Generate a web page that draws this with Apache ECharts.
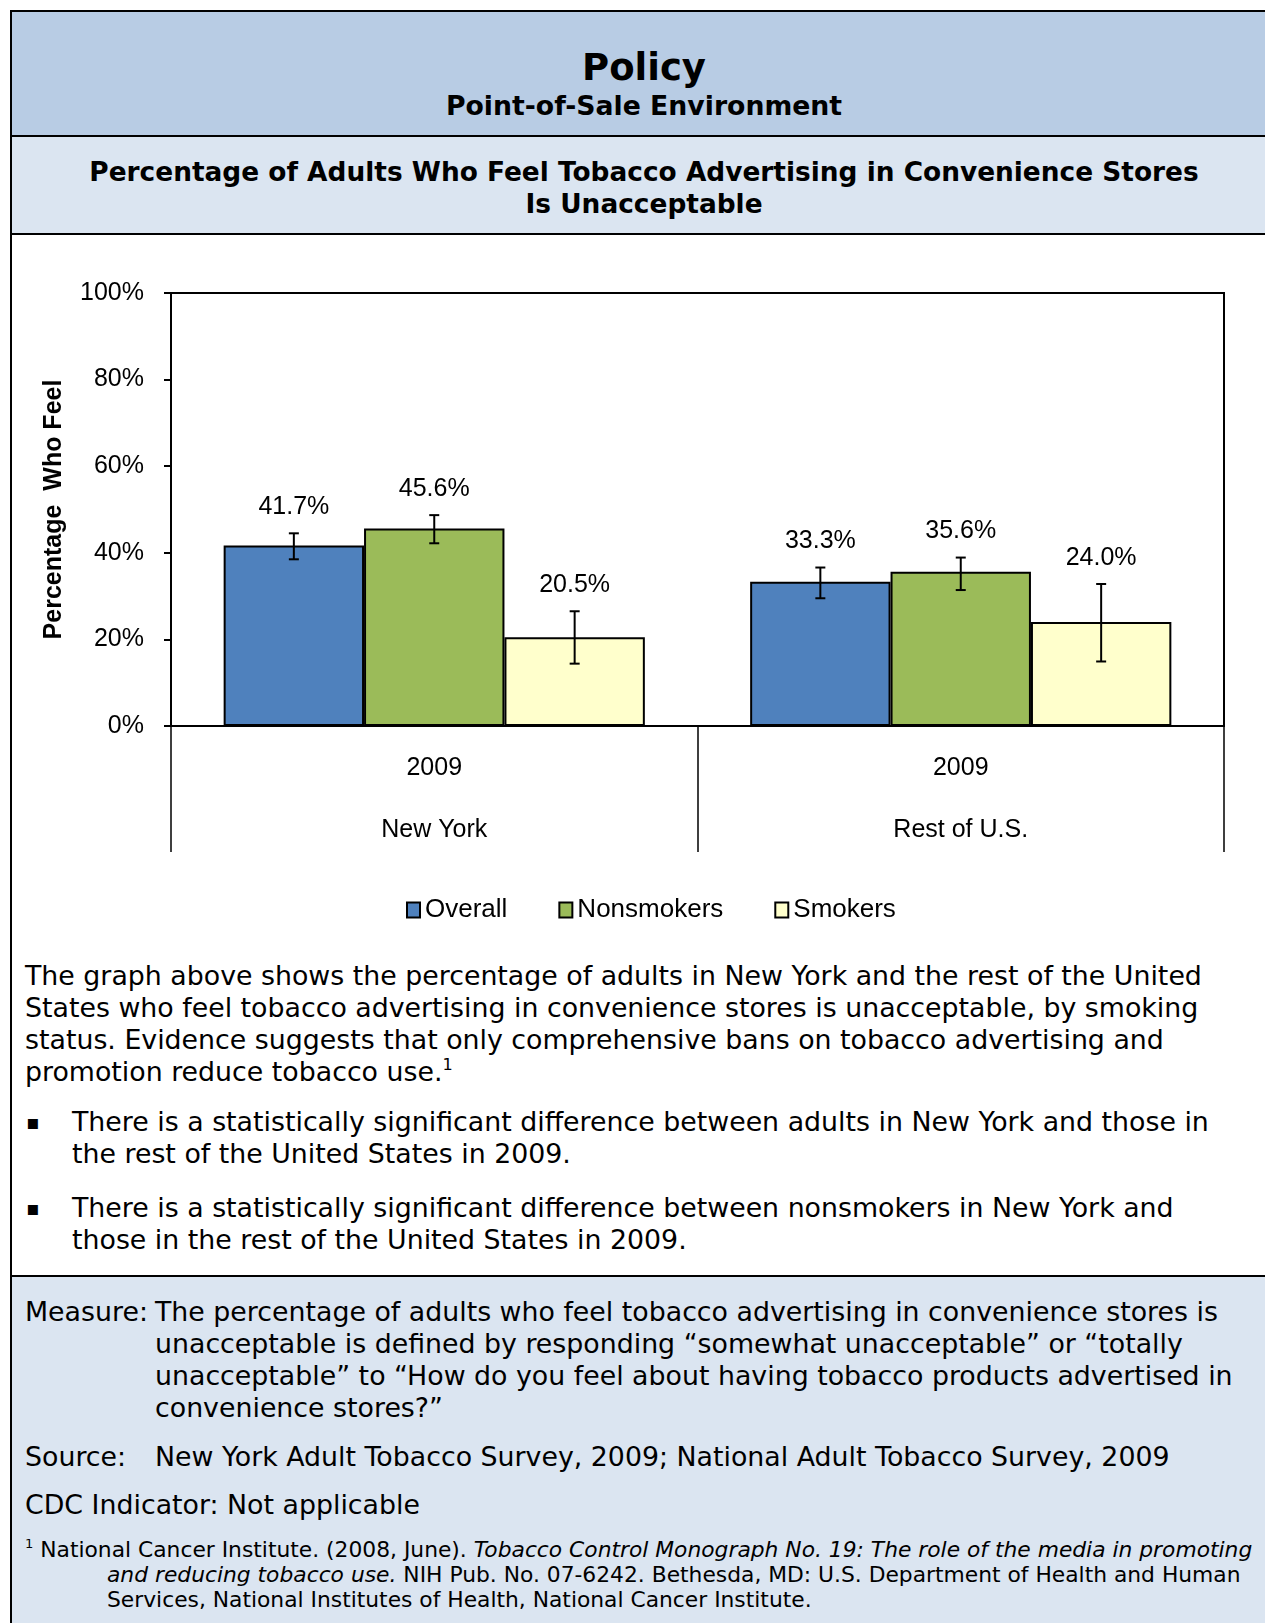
<!DOCTYPE html>
<html>
<head>
<meta charset="utf-8">
<script src="https://cdn.jsdelivr.net/npm/echarts@6/dist/echarts.min.js"></script>
<style>
  html, body { margin: 0; padding: 0; background: #fff; }
  body { width: 1265px; height: 1623px; overflow: hidden; position: relative; font-family: "DejaVu Sans", Verdana, sans-serif; color: #000; }
  .band { position: absolute; left: 10px; width: 1280px; box-sizing: border-box; border-left: 2px solid #000; }
  .ln { position: absolute; white-space: nowrap; line-height: 32px; font-size: 26.8px; }
  .ctr { left: 10px; width: 1268px; text-align: center; }
  .foot { font-size: 21.8px; line-height: 25px; }
  sup { font-size: 60%; line-height: 0; vertical-align: 0.7em; }
</style>
</head>
<body>
<div class="band" style="top:10px;height:127px;background:#b8cce4;border-top:2px solid #000;border-bottom:2px solid #000;"></div>
<div class="band" style="top:137px;height:98px;background:#dbe5f1;border-bottom:2px solid #000;"></div>
<div class="band" style="top:235px;height:1042px;background:#fff;"></div>
<div class="band" style="top:1275px;height:360px;background:#dbe5f1;border-top:2px solid #000;"></div>

<div class="ln ctr" style="top:44px;line-height:48px;font-size:37px;font-weight:bold;">Policy</div>
<div class="ln ctr" style="top:90px;font-size:26.7px;font-weight:bold;">Point-of-Sale Environment</div>
<div class="ln ctr" style="top:156px;font-size:26.4px;font-weight:bold;">Percentage of Adults Who Feel Tobacco Advertising in Convenience Stores</div>
<div class="ln ctr" style="top:188px;font-size:26.4px;font-weight:bold;">Is Unacceptable</div>

<div id="main" style="position:absolute;left:10px;top:236px;width:1255px;height:700px;"></div>

<div class="ln" style="left:25px;top:960px;">The graph above shows the percentage of adults in New York and the rest of the United</div>
<div class="ln" style="left:25px;top:992px;">States who feel tobacco advertising in convenience stores is unacceptable, by smoking</div>
<div class="ln" style="left:25px;top:1024px;">status. Evidence suggests that only comprehensive bans on tobacco advertising and</div>
<div class="ln" style="left:25px;top:1056px;">promotion reduce tobacco use.<sup>1</sup></div>

<div class="ln" style="left:26px;top:1106px;font-size:20px;">▪</div>
<div class="ln" style="left:72px;top:1106px;">There is a statistically significant difference between adults in New York and those in</div>
<div class="ln" style="left:72px;top:1138px;">the rest of the United States in 2009.</div>
<div class="ln" style="left:26px;top:1192px;font-size:20px;">▪</div>
<div class="ln" style="left:72px;top:1192px;">There is a statistically significant difference between nonsmokers in New York and</div>
<div class="ln" style="left:72px;top:1224px;">those in the rest of the United States in 2009.</div>

<div class="ln" style="left:25px;top:1296px;">Measure:</div>
<div class="ln" style="left:155px;top:1296px;">The percentage of adults who feel tobacco advertising in convenience stores is</div>
<div class="ln" style="left:155px;top:1328px;">unacceptable is defined by responding “somewhat unacceptable” or “totally</div>
<div class="ln" style="left:155px;top:1360px;">unacceptable” to “How do you feel about having tobacco products advertised in</div>
<div class="ln" style="left:155px;top:1392px;">convenience stores?”</div>
<div class="ln" style="left:25px;top:1441px;">Source:</div>
<div class="ln" style="left:155px;top:1441px;">New York Adult Tobacco Survey, 2009; National Adult Tobacco Survey, 2009</div>
<div class="ln" style="left:25px;top:1489px;">CDC Indicator: Not applicable</div>

<div class="ln foot" style="left:25px;top:1537px;"><sup>1</sup> National Cancer Institute. (2008, June). <i>Tobacco Control Monograph No. 19: The role of the media in promoting</i></div>
<div class="ln foot" style="left:107px;top:1562px;"><i>and reducing tobacco use.</i> NIH Pub. No. 07-6242. Bethesda, MD: U.S. Department of Health and Human</div>
<div class="ln foot" style="left:107px;top:1587px;">Services, National Institutes of Health, National Cancer Institute.</div>

<script>
var years = ['2009', '2009'];
var regions = ['New York', 'Rest of U.S.'];
var groups = ['Overall', 'Nonsmokers', 'Smokers'];
var colors = ['#4f81bd', '#9bbb59', '#ffffcc'];

// percent values, [New York, Rest of U.S.]
var overall = [41.7, 33.3];
var nonsmokers = [45.6, 35.6];
var smokers = [20.5, 24.0];

// confidence interval ends
var overallLow = [38.5, 29.5];
var overallHigh = [44.5, 36.6];
var nonsmokersLow = [42.2, 31.4];
var nonsmokersHigh = [48.7, 38.9];
var smokersLow = [14.4, 14.9];
var smokersHigh = [26.5, 32.8];

var yTicks = [0, 20, 40, 60, 80, 100];

var values = [overall, nonsmokers, smokers];
var lows = [overallLow, nonsmokersLow, smokersLow];
var highs = [overallHigh, nonsmokersHigh, smokersHigh];

var myChart = echarts.init(document.getElementById('main'));
var font = '"Liberation Sans", Arial, sans-serif';

function errorSeries(k) {
    return {
        type: 'custom',
        z: 5,
        encode: { x: 0, y: [1, 2] },
        data: values[k].map(function (v, i) {
            return [i, lows[k][i], highs[k][i], v];
        }),
        renderItem: function (params, api) {
            var cat = api.value(0);
            var lo = api.coord([cat, api.value(1)]);
            var hi = api.coord([cat, api.value(2)]);
            var barW = api.size([1, 0])[0] * 0.8 / 3;
            var x = lo[0] + (k - 1) * barW;
            var st = { stroke: '#000', lineWidth: 2 };
            return {
                type: 'group',
                children: [
                    { type: 'line', shape: { x1: x, y1: hi[1], x2: x, y2: lo[1] }, style: st },
                    { type: 'line', shape: { x1: x - 5, y1: hi[1], x2: x + 5, y2: hi[1] }, style: st },
                    { type: 'line', shape: { x1: x - 5, y1: lo[1], x2: x + 5, y2: lo[1] }, style: st },
                    {
                        type: 'text', x: x, y: hi[1] - 26,
                        style: {
                            text: api.value(3).toFixed(1) + '%',
                            fill: '#000', fontSize: 25, fontFamily: font,
                            align: 'center', verticalAlign: 'middle'
                        }
                    }
                ]
            };
        }
    };
}

var series = [];
groups.forEach(function (name, k) {
    series.push({
        name: name,
        type: 'bar',
        data: values[k],
        barGap: '0%',
        barCategoryGap: '20%',
        itemStyle: { color: colors[k], borderColor: '#000', borderWidth: 2 }
    });
});
groups.forEach(function (name, k) {
    series.push(errorSeries(k));
});

var option = {
    animation: false,
    textStyle: { fontFamily: font, color: '#000' },
    grid: {
        left: 161, top: 57, width: 1053, height: 433,
        show: true, borderColor: '#000', borderWidth: 2
    },
    legend: {
        data: groups,
        left: 396, top: 661, padding: 0,
        icon: 'rect', itemWidth: 13, itemHeight: 15, itemGap: 51,
        textStyle: { fontSize: 26, color: '#000', fontFamily: font }
    },
    xAxis: [{
        type: 'category',
        data: years,
        axisLine: { lineStyle: { color: '#000', width: 2 } },
        axisTick: { show: true, length: 126, interval: 0, lineStyle: { color: '#000', width: 1.5 } },
        axisLabel: { margin: 30, fontSize: 25, color: '#000', fontFamily: font, interval: 0 }
    }, {
        type: 'category',
        data: regions,
        position: 'bottom',
        axisLine: { show: false },
        axisTick: { show: false },
        axisLabel: { margin: 92, fontSize: 25, color: '#000', fontFamily: font, interval: 0 }
    }],
    yAxis: {
        type: 'value',
        min: yTicks[0], max: yTicks[yTicks.length - 1], interval: 20,
        name: 'Percentage  Who Feel',
        nameLocation: 'middle', nameRotate: 90, nameGap: 104,
        nameTextStyle: { fontSize: 25, fontWeight: 'bold', color: '#000', fontFamily: font },
        axisLine: { show: true, lineStyle: { color: '#000', width: 2 } },
        axisTick: { show: true, length: 7, lineStyle: { color: '#000', width: 2 } },
        axisLabel: { formatter: '{value}%', margin: 27, fontSize: 25, color: '#000', fontFamily: font },
        splitLine: { show: false }
    },
    series: series
};

myChart.setOption(option);
</script>
</body>
</html>
